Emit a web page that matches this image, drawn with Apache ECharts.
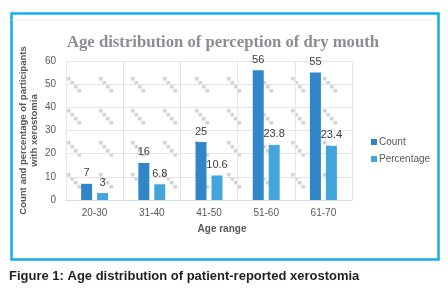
<!DOCTYPE html>
<html>
<head>
<meta charset="utf-8">
<script src="https://cdn.jsdelivr.net/npm/echarts@6/dist/echarts.min.js"></script>
<style>
  html, body { margin: 0; padding: 0; background: #fff; }
  #main { width: 448px; height: 295px; }
</style>
</head>
<body>
<div id="main"></div>
<script>
// data
var ageRanges = ['20-30', '31-40', '41-50', '51-60', '61-70'];
var countData = [7, 16, 25, 56, 55];
var percentData = [3, 6.8, 10.6, 23.8, 23.4];
var yTicks = { min: 0, max: 60, step: 10 };

// hatched background tile (little diagonal steps)
function makeTile() {
  var c = document.createElement('canvas');
  c.width = 32; c.height = 32;
  var ctx = c.getContext('2d');
  ctx.fillStyle = '#d0d2d8';
  for (var i = 0; i < 4; i++) {
    ctx.fillRect(3 + i * 3.5, 13 + i * 4, 3.5, 3.5);
  }
  return c;
}

var chart = echarts.init(document.getElementById('main'));
var font = '"Liberation Sans", Arial, sans-serif';

var option = {
  animation: false,
  textStyle: { fontFamily: font },
  title: {
    text: 'Age distribution of perception of dry mouth',
    left: 218, top: 29, textAlign: 'center',
    textStyle: { fontFamily: '"Liberation Serif", "Times New Roman", serif', fontWeight: 'bold', fontSize: 16.7, color: '#8a8d93' }
  },
  grid: {
    left: 66, right: 96, top: 61, bottom: 95,
    show: true, borderWidth: 0,
    backgroundColor: { image: makeTile(), repeat: 'repeat' }
  },
  legend: {
    orient: 'vertical', left: 366, top: 132,
    itemWidth: 6, itemHeight: 6, itemGap: 7,
    icon: 'rect',
    textStyle: { fontSize: 10, color: '#595959', padding: [0, 0, 0, -3] },
    data: ['Count', 'Percentage']
  },
  xAxis: {
    type: 'category',
    data: ageRanges,
    name: 'Age range',
    nameLocation: 'middle',
    nameGap: 24,
    nameMoveOverlap: false,
    nameTextStyle: { fontSize: 10, fontWeight: 'bold', color: '#595959', padding: [0, 0, 0, 26] },
    axisLine: { lineStyle: { color: '#d9dbe0' } },
    axisTick: { show: false },
    axisLabel: { fontSize: 10, color: '#595959', margin: 8 },
    splitLine: { show: true, lineStyle: { color: '#e3e5ea' } }
  },
  yAxis: {
    type: 'value',
    min: yTicks.min, max: yTicks.max, interval: yTicks.step,
    name: 'Count and percentage of participants\nwith xerostomia',
    nameLocation: 'middle',
    nameGap: 26,
    nameMoveOverlap: false,
    nameTextStyle: { fontSize: 9.5, fontWeight: 'bold', color: '#595959', lineHeight: 11 },
    axisLine: { show: false },
    axisTick: { show: false },
    axisLabel: { fontSize: 10, color: '#595959', margin: 10 },
    splitLine: { lineStyle: { color: '#e3e5ea' } }
  },
  series: [
    {
      name: 'Count', type: 'bar', data: countData,
      barWidth: 11, barGap: '45%',
      itemStyle: { color: '#3186c8' },
      label: { show: true, position: 'top', distance: 5, fontSize: 11, color: '#404040' }
    },
    {
      name: 'Percentage', type: 'bar', data: percentData,
      barWidth: 11,
      itemStyle: { color: '#42a6dd' },
      label: { show: true, position: 'top', distance: 5, fontSize: 11, color: '#404040' }
    }
  ],
  graphic: [
    {
      type: 'rect', left: 9, top: 11, z: -1,
      shape: { width: 427, height: 246 },
      style: { fill: 'none', stroke: '#12aeea', lineWidth: 2.5 }
    },
    {
      type: 'line', z: -1,
      shape: { x1: 12, y1: 20, x2: 433, y2: 20 },
      style: { stroke: '#eef0f2', lineWidth: 1 }
    },
    {
      type: 'text', left: 9, top: 270,
      style: { text: 'Figure 1: Age distribution of patient-reported xerostomia', font: 'bold 13px "Liberation Sans", Arial, sans-serif', fill: '#231f20' }
    }
  ]
};

chart.setOption(option);
</script>
</body>
</html>
